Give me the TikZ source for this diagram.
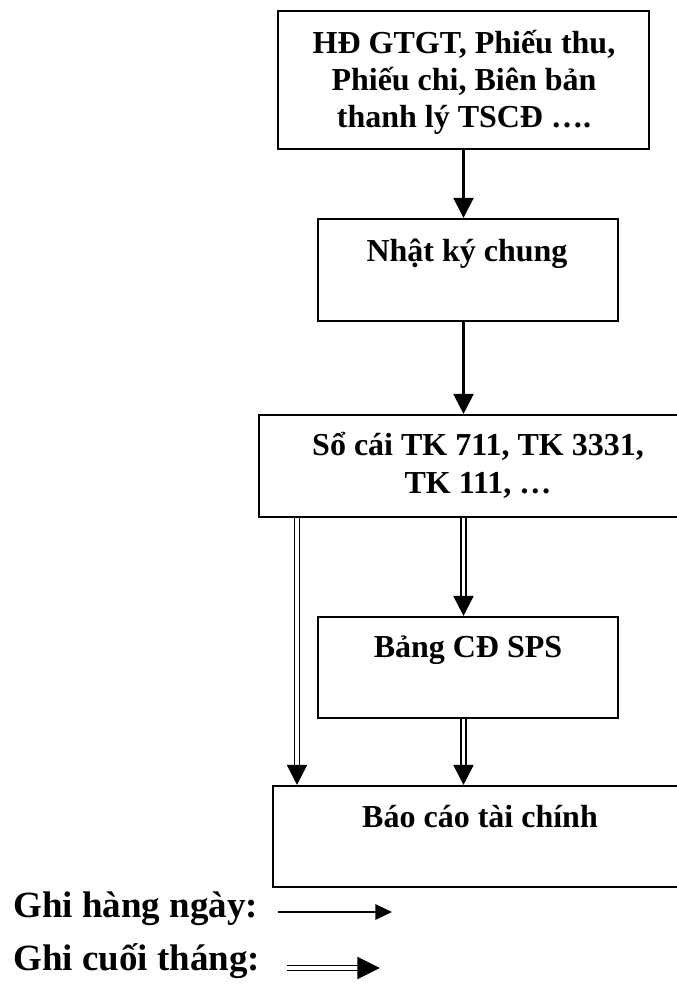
\documentclass[tikz,border=0pt]{standalone}
\usepackage{fontspec}
\setmainfont{Liberation Serif}
\usetikzlibrary{arrows.meta,fit}
\begin{document}
\begin{tikzpicture}[x=0.75pt,y=-0.75pt,
  box/.style={draw,line width=1.6pt,rectangle,inner sep=0pt},
  lbl/.style={font=\fontsize{24}{28}\selectfont\bfseries,align=center,inner sep=0pt,anchor=base},
  legtext/.style={font=\fontsize{27.75}{33}\selectfont\bfseries,inner sep=0pt,anchor=base west},
  arr/.style={line width=1.6pt,-{Triangle[length=15pt,width=15pt]}},
  dbl/.style={line width=1.35pt,double distance=2.3pt,-{Triangle[length=15pt,width=15pt]}},
  legarr/.style={line width=1.6pt,-{Triangle[length=12.5pt,width=11.5pt]}},
  legdbl/.style={line width=1.35pt,double distance=2.3pt,-{Triangle[length=17pt,width=16.5pt]}}
]
\useasboundingbox (0,0) rectangle (677,987);
\clip (0,0) rectangle (677,987);

% boxes
\node[box,fit={(278,11) (649,149)}] (b1) {};
\node[box,fit={(318,219) (618,321)}] (b2) {};
\node[box,fit={(259,415) (697,517)}] (b3) {};
\node[box,fit={(318,617) (618,718)}] (b4) {};
\node[box,fit={(273,786) (688,887)}] (b5) {};

% box texts (anchor base = baseline of the last line)
\node[lbl] (t1) at (464,128) {HĐ GTGT, Phiếu thu,\\Phiếu chi, Biên bản\\thanh lý TSCĐ ….};
\node[lbl] (t2) at (467,262) {Nhật ký chung};
\node[lbl] (t3) at (478,493) {Sổ cái TK 711, TK 3331,\\TK 111, …};
\node[lbl] (t4) at (468,657) {Bảng CĐ SPS};
\node[lbl] (t5) at (480,827) {Báo cáo tài chính};

% daily entries
\draw[arr] (b1.south) -- (b1.south |- b2.north);
\draw[arr] (b2.south -| b1.south) -- (b1.south |- b3.north);

% month-end entries
\coordinate (colL) at (297,0);
\draw[dbl] (b3.south -| colL) -- (b5.north -| colL);
\draw[dbl] (b3.south -| b1.south) -- (b4.north -| b1.south);
\draw[dbl] (b4.south -| b1.south) -- (b5.north -| b1.south);

% legend
\node[legtext] (l1) at (13,917) {Ghi hàng ngày:};
\node[legtext] (l2) at (13,970) {Ghi cuối tháng:};
\coordinate (d0) at (278,912);
\coordinate (d1) at (392,912);
\coordinate (m0) at (287,968);
\coordinate (m1) at (380,968);
\draw[legarr] (d0) -- (d1);
\draw[legdbl] (m0) -- (m1);
\end{tikzpicture}
\end{document}
